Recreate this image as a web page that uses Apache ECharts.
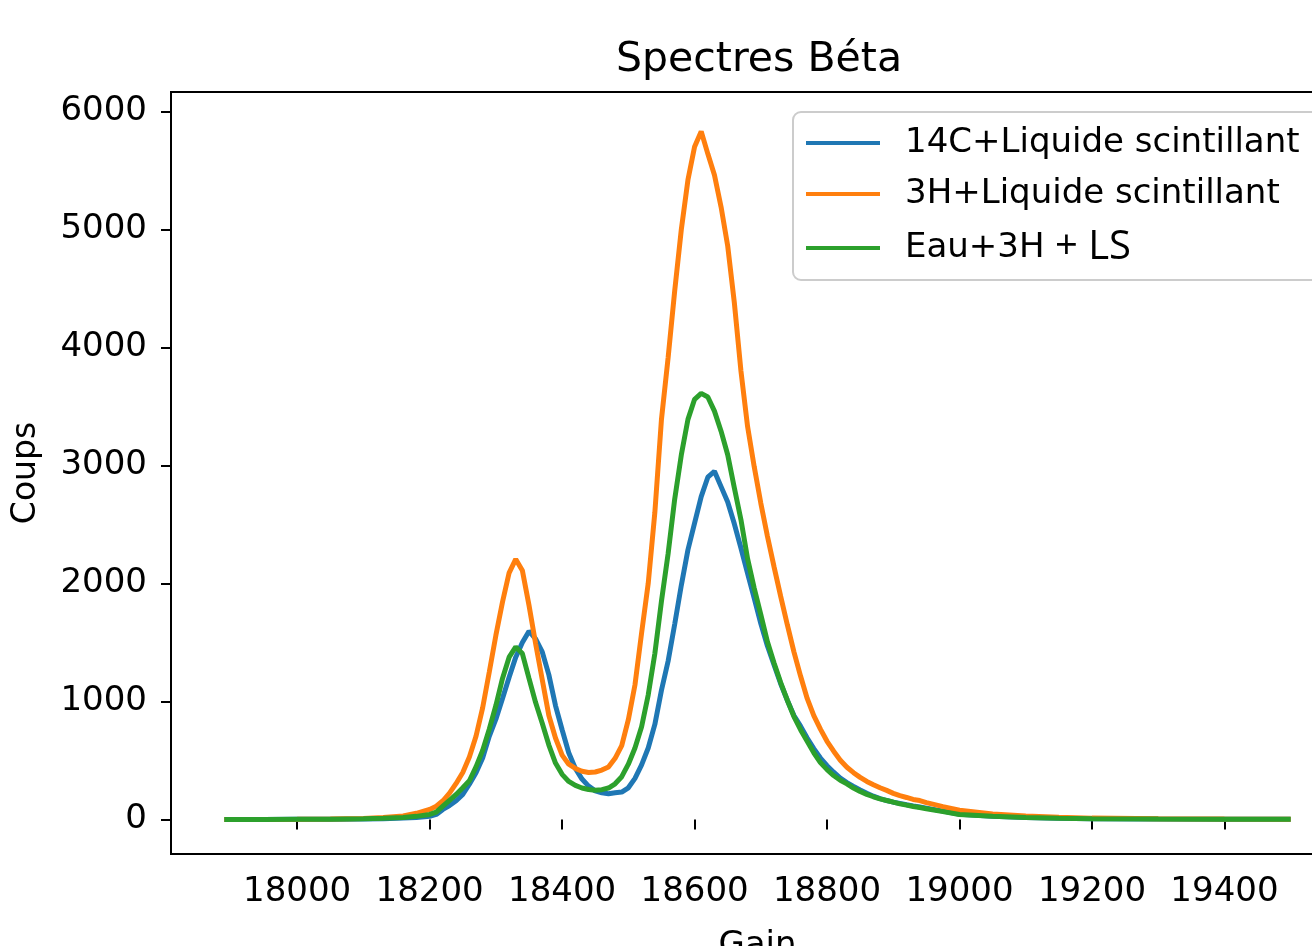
<!DOCTYPE html>
<html>
<head>
<meta charset="utf-8">
<script src="https://cdn.jsdelivr.net/npm/echarts@6/dist/echarts.min.js"></script>
<style>
html,body{margin:0;padding:0;background:#fff;}
#chart{width:1312px;height:946px;}
</style>
</head>
<body>
<div id="chart"></div>
<script>
// Gain values (x)
const gain = [17890, 17950, 18000, 18050, 18100, 18130, 18160, 18180,
  18200, 18210, 18220, 18230, 18240, 18250, 18260, 18270, 18280, 18290,
  18300, 18310, 18320, 18330, 18340, 18350, 18360, 18370, 18380, 18390,
  18400, 18410, 18420, 18430, 18440, 18450, 18460, 18470, 18480, 18490,
  18500, 18510, 18520, 18530, 18540, 18550, 18560, 18570, 18580, 18590,
  18600, 18610, 18620, 18630, 18640, 18650, 18660, 18670, 18680, 18690,
  18700, 18710, 18720, 18730, 18740, 18750, 18760, 18770, 18780, 18790,
  18800, 18810, 18820, 18830, 18840, 18850, 18860, 18870, 18880, 18890,
  18900, 18910, 18920, 18930, 18940, 18950,
  18975, 19000, 19050, 19100, 19150, 19200, 19300, 19400, 19500];

// 14C + Liquide scintillant (blue)
const c14 = [0, 0, 1, 2, 4, 6, 11, 17,
  26, 42, 85, 118, 158, 212, 298, 395, 520, 705,
  850, 1025, 1205, 1375, 1500, 1595, 1530, 1420, 1225, 965,
  760, 565, 432, 342, 282, 242, 226, 218, 226, 232,
  268, 348, 462, 605, 805, 1095, 1340, 1655, 1985, 2285,
  2510, 2735, 2900, 2950, 2820, 2690, 2505, 2300, 2085, 1875,
  1660, 1470, 1310, 1150, 1010, 880, 790, 690, 600, 520,
  455, 400, 350, 312, 280, 250, 222, 197, 177, 160,
  146, 136, 125, 115, 106, 96,
  70, 44, 27, 16, 10, 6, 3, 2, 1];

// 3H + Liquide scintillant (orange)
const h3 = [0, 0, 1, 3, 8, 16, 30, 52,
  85, 112, 158, 222, 305, 398, 528, 705, 945, 1248,
  1560, 1842, 2090, 2205, 2110, 1815, 1490, 1185, 880, 690,
  545, 468, 432, 408, 398, 402, 418, 445, 518, 625,
  845, 1140, 1580, 2000, 2600, 3390, 3910, 4480, 5000, 5420,
  5700, 5830, 5640, 5460, 5190, 4860, 4380, 3800, 3330, 2990,
  2680, 2400, 2140, 1890, 1650, 1420, 1215, 1025, 880, 765,
  662, 578, 502, 442, 396, 356, 322, 294, 268, 246,
  221, 201, 186, 169, 160, 142,
  108, 78, 46, 28, 18, 11, 5, 3, 2];

// Eau + 3H + LS (green)
const eau = [0, 0, 1, 2, 5, 9, 16, 26,
  42, 62, 112, 162, 212, 268, 328, 445, 585, 765,
  965, 1195, 1375, 1462, 1405, 1195, 990, 815, 630, 478,
  382, 322, 288, 266, 254, 248, 252, 266, 302, 362,
  468, 605, 785, 1055, 1405, 1850, 2250, 2715, 3090, 3390,
  3560, 3610, 3580, 3460, 3290, 3090, 2810, 2540, 2210, 1960,
  1735, 1505, 1325, 1160, 1010, 872, 760, 662, 565, 482,
  422, 372, 332, 302, 266, 236, 212, 192, 174, 160,
  146, 132, 121, 110, 101, 90,
  66, 42, 26, 16, 10, 6, 3, 2, 1];

const seriesNames = ['14C+Liquide scintillant', '3H+Liquide scintillant', 'Eau+3H + LS'];
const xTicks = [18000, 18200, 18400, 18600, 18800, 19000, 19200, 19400];
const yTicks = [0, 1000, 2000, 3000, 4000, 5000, 6000];

const FONT = 'DejaVu Sans';
const pairs = arr => gain.map((g, i) => [g, arr[i]]);

const chart = echarts.init(document.getElementById('chart'), null, {renderer: 'canvas'});
chart.setOption({
  animation: false,
  backgroundColor: '#ffffff',
  title: {
    text: 'Spectres Béta',
    left: 611, top: 35,
    textStyle: {fontFamily: FONT, fontSize: 41, fontWeight: 'normal', color: '#000'}
  },
  legend: {
    orient: 'vertical',
    left: 793, top: 112,
    padding: [14, 40, 12, 13],
    itemGap: 17,
    itemWidth: 74, itemHeight: 4,
    icon: 'rect',
    borderColor: '#cccccc', borderWidth: 2, borderRadius: 8,
    backgroundColor: 'rgba(255,255,255,0.85)',
    data: seriesNames,
    formatter: name => name.replace(' + LS', '{ls| + LS}'),
    textStyle: {
      fontFamily: FONT, fontSize: 34, color: '#000',
      padding: [0, 0, 0, 20],
      rich: {ls: {fontFamily: 'Open Sans', fontSize: 40, color: '#000'}}
    }
  },
  grid: {
    left: 171, top: 92, right: -32, bottom: 92,
    containLabel: false, outerBoundsMode: 'none',
    show: true, borderColor: '#000', borderWidth: 2, backgroundColor: 'transparent'
  },
  xAxis: {
    type: 'value', min: 17809.5, max: 19580.5,
    name: 'Gain', nameLocation: 'middle', nameGap: 75,
    nameTextStyle: {fontFamily: FONT, fontSize: 34, color: '#000'},
    axisLine: {show: false},
    axisTick: {show: true, length: 10, inside: false, customValues: xTicks, lineStyle: {color: '#000', width: 2}},
    axisLabel: {customValues: xTicks, fontFamily: FONT, fontSize: 34, color: '#000', margin: 21, formatter: v => String(v)},
    splitLine: {show: false}
  },
  yAxis: {
    type: 'value', min: -293, max: 6164,
    name: 'Coups', nameLocation: 'middle', nameGap: 128, nameRotate: 90,
    nameTextStyle: {fontFamily: FONT, fontSize: 33, color: '#000'},
    axisLine: {show: false},
    axisTick: {show: true, length: 10, inside: false, customValues: yTicks, lineStyle: {color: '#000', width: 2}},
    axisLabel: {customValues: yTicks, fontFamily: FONT, fontSize: 34, color: '#000', margin: 24, formatter: v => String(v)},
    splitLine: {show: false}
  },
  series: [
    {name: seriesNames[0], type: 'line', data: pairs(c14), showSymbol: false, symbol: 'none',
     lineStyle: {color: '#1f77b4', width: 5}, itemStyle: {color: '#1f77b4'}},
    {name: seriesNames[1], type: 'line', data: pairs(h3), showSymbol: false, symbol: 'none',
     lineStyle: {color: '#ff7f0e', width: 5}, itemStyle: {color: '#ff7f0e'}},
    {name: seriesNames[2], type: 'line', data: pairs(eau), showSymbol: false, symbol: 'none',
     lineStyle: {color: '#2ca02c', width: 5}, itemStyle: {color: '#2ca02c'}}
  ]
});
</script>
</body>
</html>
